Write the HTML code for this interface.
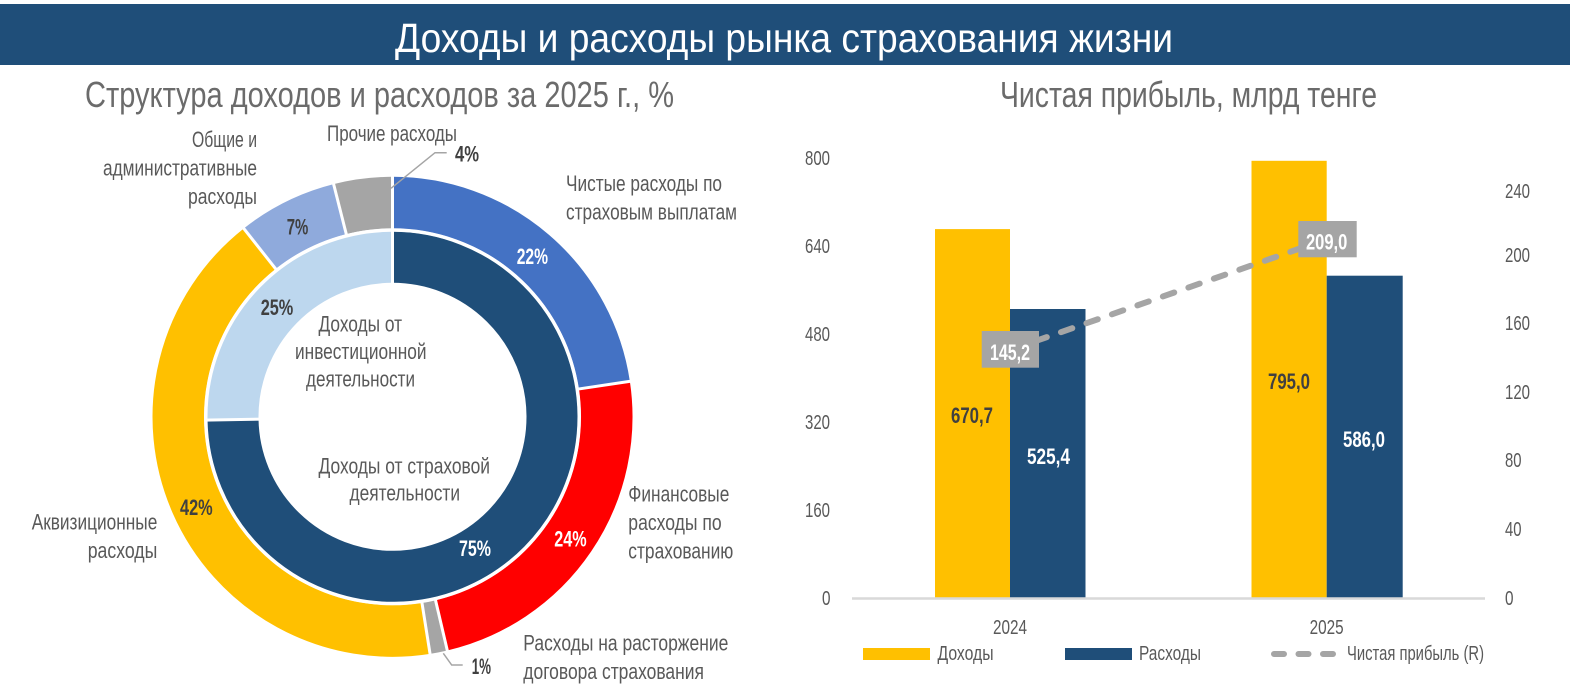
<!DOCTYPE html>
<html><head><meta charset="utf-8"><style>
html,body{margin:0;padding:0;background:#fff;}
svg{display:block;}
text{font-family:"Liberation Sans","DejaVu Sans",sans-serif;}
.lb{font-size:22px;fill:#595959;}
.pc{font-size:22px;font-weight:bold;}
.ax{font-size:20px;fill:#595959;}
</style></head><body>
<svg width="1570" height="695" viewBox="0 0 1570 695" xmlns="http://www.w3.org/2000/svg">
<rect x="0" y="0" width="1570" height="695" fill="#fff"/>
<!-- Title bar -->
<rect x="0" y="4" width="1570" height="61" fill="#1F4E79"/>
<text x="395" y="52" font-size="41" fill="#fff" textLength="778" lengthAdjust="spacingAndGlyphs">Доходы и расходы рынка страхования жизни</text>
<!-- Subtitles -->
<text x="85" y="107" font-size="36" fill="#6b6b6b" textLength="589" lengthAdjust="spacingAndGlyphs">Структура доходов и расходов за 2025 г., %</text>
<text x="1000" y="107" font-size="36" fill="#6b6b6b" textLength="377" lengthAdjust="spacingAndGlyphs">Чистая прибыль, млрд тенге</text>

<!-- Donut outer ring -->
<g fill="none" stroke-width="51.5">
<path d="M392.5 202.55 A214.25 214.25 0 0 1 604.40 385.13" stroke="#4472C4"/>
<path d="M604.40 385.13 A214.25 214.25 0 0 1 441.42 625.39" stroke="#FF0000"/>
<path d="M441.42 625.39 A214.25 214.25 0 0 1 426.02 628.41" stroke="#A5A5A5"/>
<path d="M426.02 628.41 A214.25 214.25 0 0 1 259.72 248.66" stroke="#FFC000"/>
<path d="M259.72 248.66 A214.25 214.25 0 0 1 339.94 209.10" stroke="#8FAADC"/>
<path d="M339.94 209.10 A214.25 214.25 0 0 1 392.5 202.55" stroke="#A5A5A5"/>
</g>
<!-- Donut inner ring -->
<g fill="none" stroke-width="51">
<path d="M392.5 257.3 A159.5 159.5 0 1 1 233.02 419.58" stroke="#1F4E79"/>
<path d="M233.02 419.58 A159.5 159.5 0 0 1 392.5 257.3" stroke="#BDD7EE"/>
</g>
<!-- separators -->
<g stroke="#fff" stroke-width="3">
<line x1="392.5" y1="286.8" x2="392.5" y2="172.8"/>
<line x1="576.46" y1="389.31" x2="633.82" y2="380.73"/>
<line x1="434.97" y1="597.89" x2="448.22" y2="654.35"/>
<line x1="421.60" y1="600.51" x2="430.67" y2="657.80"/>
<line x1="277.22" y1="270.83" x2="241.28" y2="225.31"/>
<line x1="346.87" y1="236.48" x2="332.64" y2="180.25"/>
<line x1="262.52" y1="419.07" x2="204.53" y2="420.08"/>
</g>
<circle cx="392.5" cy="416.8" r="186.8" fill="none" stroke="#fff" stroke-width="3"/>

<!-- leader lines -->
<polyline points="391,188.3 435,152.7 446.7,152.7" fill="none" stroke="#A5A5A5" stroke-width="1.5"/>
<polyline points="443.3,653.3 451.7,665 462.7,665" fill="none" stroke="#A5A5A5" stroke-width="1.5"/>

<!-- donut category labels -->
<text class="lb" x="327" y="141" textLength="130" lengthAdjust="spacingAndGlyphs">Прочие расходы</text>
<text class="lb" x="192" y="147" textLength="65" lengthAdjust="spacingAndGlyphs">Общие и</text>
<text class="lb" x="103" y="175.5" textLength="154" lengthAdjust="spacingAndGlyphs">административные</text>
<text class="lb" x="188" y="204" textLength="69" lengthAdjust="spacingAndGlyphs">расходы</text>
<text class="lb" x="566" y="191" textLength="156" lengthAdjust="spacingAndGlyphs">Чистые расходы по</text>
<text class="lb" x="566" y="219.5" textLength="171" lengthAdjust="spacingAndGlyphs">страховым выплатам</text>
<text class="lb" x="318.5" y="331.5" textLength="83.5" lengthAdjust="spacingAndGlyphs">Доходы от</text>
<text class="lb" x="295" y="359" textLength="131.5" lengthAdjust="spacingAndGlyphs">инвестиционной</text>
<text class="lb" x="306" y="386.5" textLength="109" lengthAdjust="spacingAndGlyphs">деятельности</text>
<text class="lb" x="318.5" y="473.3" textLength="171.5" lengthAdjust="spacingAndGlyphs">Доходы от страховой</text>
<text class="lb" x="349.5" y="500.5" textLength="110.5" lengthAdjust="spacingAndGlyphs">деятельности</text>
<text class="lb" x="31.7" y="529.3" textLength="125.6" lengthAdjust="spacingAndGlyphs">Аквизиционные</text>
<text class="lb" x="87.7" y="557.8" textLength="69.6" lengthAdjust="spacingAndGlyphs">расходы</text>
<text class="lb" x="628.3" y="501.5" textLength="101" lengthAdjust="spacingAndGlyphs">Финансовые</text>
<text class="lb" x="628.3" y="530" textLength="93.4" lengthAdjust="spacingAndGlyphs">расходы по</text>
<text class="lb" x="628.3" y="558.5" textLength="105" lengthAdjust="spacingAndGlyphs">страхованию</text>
<text class="lb" x="523.3" y="650.7" textLength="205" lengthAdjust="spacingAndGlyphs">Расходы на расторжение</text>
<text class="lb" x="523.3" y="679" textLength="180.7" lengthAdjust="spacingAndGlyphs">договора страхования</text>

<!-- donut percents -->
<text class="pc" x="516.7" y="264" fill="#fff" textLength="31.3" lengthAdjust="spacingAndGlyphs">22%</text>
<text class="pc" x="554.3" y="546.7" fill="#fff" textLength="32.4" lengthAdjust="spacingAndGlyphs">24%</text>
<text class="pc" x="459" y="556" fill="#fff" textLength="32" lengthAdjust="spacingAndGlyphs">75%</text>
<text class="pc" x="260.7" y="315" fill="#404040" textLength="32.6" lengthAdjust="spacingAndGlyphs">25%</text>
<text class="pc" x="286.7" y="234.3" fill="#404040" textLength="21.6" lengthAdjust="spacingAndGlyphs">7%</text>
<text class="pc" x="180" y="515" fill="#404040" textLength="32.7" lengthAdjust="spacingAndGlyphs">42%</text>
<text class="pc" x="455" y="161.7" fill="#404040" textLength="24" lengthAdjust="spacingAndGlyphs">4%</text>
<text class="pc" x="471.7" y="674" fill="#404040" textLength="19.3" lengthAdjust="spacingAndGlyphs">1%</text>

<!-- Bar chart -->
<rect x="935" y="229.1" width="75" height="368.4" fill="#FFC000"/>
<rect x="1010" y="309" width="75.5" height="288.5" fill="#1F4E79"/>
<rect x="1251.5" y="160.8" width="75.2" height="436.7" fill="#FFC000"/>
<rect x="1326.7" y="275.7" width="76" height="321.8" fill="#1F4E79"/>
<line x1="852" y1="598.5" x2="1485" y2="598.5" stroke="#d9d9d9" stroke-width="2.5"/>

<!-- left axis -->
<g class="ax">
<text x="805" y="165" textLength="25" lengthAdjust="spacingAndGlyphs">800</text>
<text x="805" y="253" textLength="25" lengthAdjust="spacingAndGlyphs">640</text>
<text x="805" y="341" textLength="25" lengthAdjust="spacingAndGlyphs">480</text>
<text x="805" y="429" textLength="25" lengthAdjust="spacingAndGlyphs">320</text>
<text x="805" y="517" textLength="25" lengthAdjust="spacingAndGlyphs">160</text>
<text x="822" y="605" textLength="8.5" lengthAdjust="spacingAndGlyphs">0</text>
</g>
<!-- right axis -->
<g class="ax">
<text x="1505" y="198" textLength="25" lengthAdjust="spacingAndGlyphs">240</text>
<text x="1505" y="262" textLength="25" lengthAdjust="spacingAndGlyphs">200</text>
<text x="1505" y="330" textLength="25" lengthAdjust="spacingAndGlyphs">160</text>
<text x="1505" y="399" textLength="25" lengthAdjust="spacingAndGlyphs">120</text>
<text x="1505" y="467" textLength="16.5" lengthAdjust="spacingAndGlyphs">80</text>
<text x="1505" y="536" textLength="16.5" lengthAdjust="spacingAndGlyphs">40</text>
<text x="1505" y="605" textLength="8.5" lengthAdjust="spacingAndGlyphs">0</text>
</g>
<!-- categories -->
<text class="ax" x="993" y="634" textLength="34" lengthAdjust="spacingAndGlyphs">2024</text>
<text class="ax" x="1309.6" y="634" textLength="34" lengthAdjust="spacingAndGlyphs">2025</text>

<!-- bar data labels -->
<text class="pc" x="951" y="423" fill="#404040" textLength="42" lengthAdjust="spacingAndGlyphs">670,7</text>
<text class="pc" x="1027" y="464" fill="#fff" textLength="43" lengthAdjust="spacingAndGlyphs">525,4</text>
<text class="pc" x="1268" y="389" fill="#404040" textLength="42" lengthAdjust="spacingAndGlyphs">795,0</text>
<text class="pc" x="1343" y="447" fill="#fff" textLength="42" lengthAdjust="spacingAndGlyphs">586,0</text>

<!-- net profit line -->
<line x1="1010" y1="350" x2="1327" y2="239" stroke="#A5A5A5" stroke-width="6" stroke-linecap="round" stroke-dasharray="12 15"/>
<rect x="981.7" y="331" width="57.3" height="36.7" fill="#A5A5A5"/>
<text class="pc" x="990" y="360" fill="#fff" textLength="40" lengthAdjust="spacingAndGlyphs">145,2</text>
<rect x="1298.3" y="221" width="58.4" height="36.3" fill="#A5A5A5"/>
<text class="pc" x="1306" y="249.3" fill="#fff" textLength="41.3" lengthAdjust="spacingAndGlyphs">209,0</text>

<!-- legend -->
<rect x="863" y="648" width="67" height="12" fill="#FFC000"/>
<text class="ax" x="937.5" y="660" textLength="56" lengthAdjust="spacingAndGlyphs">Доходы</text>
<rect x="1065" y="648" width="67" height="12" fill="#1F4E79"/>
<text class="ax" x="1139" y="660" textLength="62" lengthAdjust="spacingAndGlyphs">Расходы</text>
<line x1="1274" y1="654" x2="1333" y2="654" stroke="#A5A5A5" stroke-width="6" stroke-linecap="round" stroke-dasharray="10 14.5"/>
<text class="ax" x="1347" y="660" textLength="137" lengthAdjust="spacingAndGlyphs">Чистая прибыль (R)</text>
</svg>
</body></html>
